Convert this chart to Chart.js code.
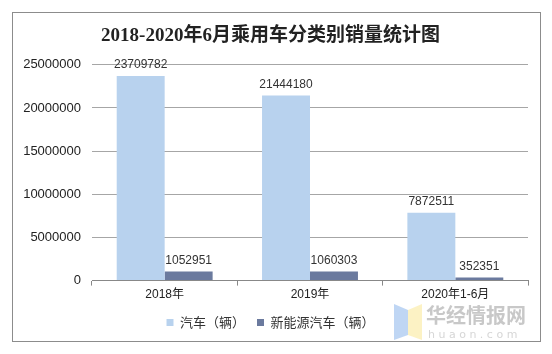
<!DOCTYPE html>
<html>
<head>
<meta charset="utf-8">
<script src="https://cdn.jsdelivr.net/npm/chart.js@4/dist/chart.umd.min.js"></script>
<style>
  html, body { margin: 0; padding: 0; background: #fff; }
  .frame {
    position: absolute; left: 12px; top: 12px;
    width: 527px; height: 328px;
    border: 1px solid #8c8c8c; background: #fff;
  }
  canvas { display: block; }
</style>
</head>
<body>
<div class="frame"><canvas id="salesChart" width="527" height="328"></canvas></div>
<script>
const categories = ['2018年', '2019年', '2020年1-6月'];
const carSales = [23709782, 21444180, 7872511];
const nevSales = [1052951, 1060303, 352351];
const seriesNames = ['汽车（辆）', '新能源汽车（辆）'];
const yTicks = [0, 5000000, 10000000, 15000000, 20000000, 25000000];

// value labels above each bar
const barLabels = {
    id: 'barLabels',
    afterDatasetsDraw(chart) {
        const ctx = chart.ctx;
        ctx.save();
        ctx.font = '12px "Liberation Sans", Arial, sans-serif';
        ctx.fillStyle = '#333';
        ctx.textAlign = 'center';
        ctx.textBaseline = 'bottom';
        chart.data.datasets.forEach((ds, i) => {
            chart.getDatasetMeta(i).data.forEach((bar, j) => {
                ctx.fillText(ds.data[j], bar.x, bar.y - 5);
            });
        });
        ctx.restore();
    }
};

// faint site watermark in the corner
const watermark = {
    id: 'watermark',
    afterDraw(chart) {
        const ctx = chart.ctx;
        ctx.save();
        ctx.globalAlpha = 0.75;
        ctx.fillStyle = '#a9c8f0';
        ctx.beginPath();
        ctx.moveTo(381, 291); ctx.lineTo(395, 297); ctx.lineTo(395, 322); ctx.lineTo(381, 327);
        ctx.fill();
        ctx.fillStyle = '#fbeeb0';
        ctx.beginPath();
        ctx.moveTo(395, 297); ctx.lineTo(409, 291); ctx.lineTo(409, 327); ctx.lineTo(395, 322);
        ctx.fill();
        ctx.fillStyle = '#b5b5b5';
        ctx.font = 'bold 20px "Noto Sans CJK SC", sans-serif';
        ctx.textBaseline = 'alphabetic';
        ctx.fillText('华经情报网', 413, 310);
        ctx.font = '11px "DejaVu Sans", sans-serif';
        ctx.fillStyle = '#c8c8c8';
        ctx.fillText('h u a o n . c o m', 415, 325);
        ctx.restore();
    }
};

new Chart(document.getElementById('salesChart'), {
    type: 'bar',
    data: {
        labels: categories,
        datasets: [
            { label: seriesNames[0], data: carSales, backgroundColor: '#b8d2ee' },
            { label: seriesNames[1], data: nevSales, backgroundColor: '#6b7a9e' }
        ]
    },
    options: {
        responsive: false,
        animation: false,
        datasets: { bar: { categoryPercentage: 0.66, barPercentage: 1 } },
        layout: { padding: { left: 0, right: 12, top: 0, bottom: 2 } },
        plugins: {
            title: {
                display: true,
                text: '2018-2020年6月乘用车分类别销量统计图',
                color: '#222',
                font: { size: 19, weight: 'bold', family: '"Liberation Serif", "Noto Sans CJK SC", serif' },
                padding: { top: 12, bottom: 17 }
            },
            legend: {
                position: 'bottom',
                labels: {
                    boxWidth: 7, boxHeight: 7, color: '#333', padding: 12,
                    font: { size: 13, family: '"Noto Sans CJK SC", sans-serif' }
                }
            },
            tooltip: { enabled: false }
        },
        scales: {
            x: {
                grid: { offset: true, drawOnChartArea: false, drawTicks: true, tickLength: 5, color: '#888' },
                border: { display: true, color: '#888' },
                ticks: { color: '#222', font: { size: 12, family: '"Liberation Sans", "Noto Sans CJK SC", sans-serif' }, padding: 2 }
            },
            y: {
                min: 0,
                max: 25000000,
                afterBuildTicks(axis) { axis.ticks = yTicks.map(v => ({ value: v })); },
                afterFit(axis) { axis.width = 79; },
                grid: { color: '#a6a6a6', drawTicks: false },
                border: { display: false },
                ticks: {
                    color: '#222', padding: 11,
                    font: { size: 13, family: '"Liberation Sans", sans-serif' },
                    callback: v => String(v)
                }
            }
        }
    },
    plugins: [barLabels, watermark]
});
</script>
</body>
</html>
